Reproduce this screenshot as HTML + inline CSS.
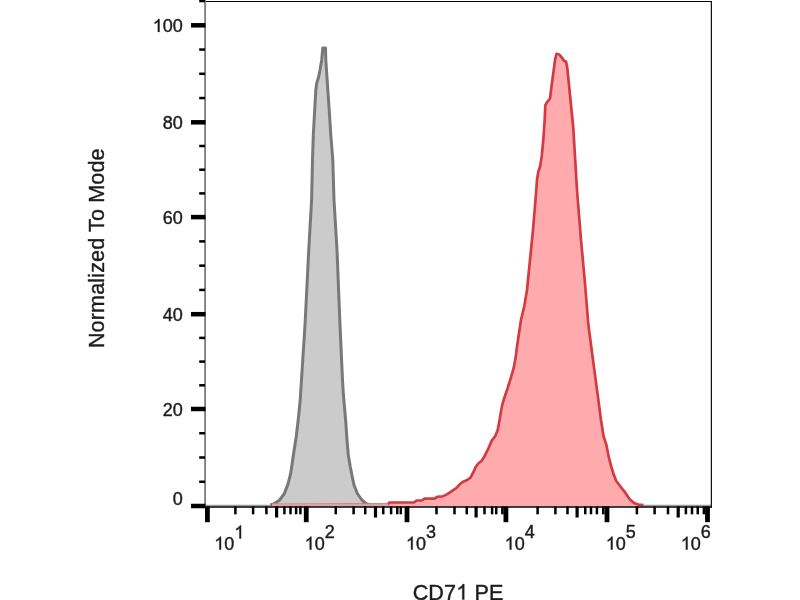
<!DOCTYPE html><html><head><meta charset="utf-8"><style>html,body{margin:0;padding:0;background:#fff;width:800px;height:600px;overflow:hidden}#w{will-change:transform;width:800px;height:600px;background:#fff}svg{display:block}text{font-family:"Liberation Sans", sans-serif;fill:#1c1c1c;stroke:#1c1c1c;stroke-width:0.4px}</style></head><body><div id="w">
<svg width="800" height="600" viewBox="0 0 800 600">
<rect width="800" height="600" fill="#fff"/>
<line x1="205" y1="505.5" x2="711" y2="505.5" stroke="#9a9a9a" stroke-width="1.5"/>
<polygon points="270.5,506 270.5,505 274.2,503.7 279.7,500 284.3,493.6 287.9,484.4 290.7,473.4 293.4,455 296.2,436.7 298.4,418.3 300.2,400 305,325 308.75,250 311.6,200 312.5,160 313.3,135 314.7,110 315.8,90 316.7,83.3 318.7,76.7 320,70 321.7,60 322.8,48 325.5,48 325.8,60 327.5,85 329.2,110 330.8,135 332.8,160 334,200 337,250 340,325 342.5,380 343.4,395 344.75,410 346,425 347,440 348.3,455 350.3,467 352.3,477 354,485 357.5,493.75 361.9,500 366.25,503.75 370.4,505 370.4,506" fill="#cbcbcb"/>
<polyline points="270.5,505 274.2,503.7 279.7,500 284.3,493.6 287.9,484.4 290.7,473.4 293.4,455 296.2,436.7 298.4,418.3 300.2,400 305,325 308.75,250 311.6,200 312.5,160 313.3,135 314.7,110 315.8,90 316.7,83.3 318.7,76.7 320,70 321.7,60 322.8,48 325.5,48 325.8,60 327.5,85 329.2,110 330.8,135 332.8,160 334,200 337,250 340,325 342.5,380 343.4,395 344.75,410 346,425 347,440 348.3,455 350.3,467 352.3,477 354,485 357.5,493.75 361.9,500 366.25,503.75 370.4,505" fill="none" stroke="#787878" stroke-width="3" stroke-linejoin="round"/>
<polygon points="271,506 271,505 370,504.5 387.5,504.5 389.5,502.5 414,502.5 416.5,500.5 422,500.5 424.5,498.5 434.5,498.6 437.5,496.75 442.75,496.4 447.25,494.1 451.75,491.1 456.25,488.1 460,484 463,481.75 466.75,480.25 470.5,477.6 473.5,472 475.75,466.75 478.75,463 481.5,461 484.3,456.7 488.3,448.7 491.7,440.7 495,436.7 497.7,430 499.7,419.3 501,411.3 502.3,404.7 504.3,398 507.7,388 511,377.3 513.7,368 515.7,357.3 517,346.7 519,333.3 521,320 524.3,306 527,290 529,270 531,250 533,230 536.3,190 537,180 538.3,171.7 540,166.7 541.7,156.7 543.3,140 544.8,118 545.3,105.3 546.7,102.7 550,98.7 551.3,88 554,68 555,60 556.5,53.8 559.3,54.5 562.7,58.7 564,60.7 566,61.5 567.3,68 569.3,88 571.3,108 573.3,128 575,156.7 577,190 581,240 584.7,280 588.4,325 593,360 597.7,395 601,420 603.5,436 606.4,445 608.5,455.8 611.25,466.7 614,475.3 616.1,480.75 621,487.25 625.3,492.7 629.7,499.2 634,503 638.3,504.6 643.5,505 643.5,506" fill="#ffabad"/>
<polyline points="271,505 370,504.5 387.5,504.5 389.5,502.5 414,502.5 416.5,500.5 422,500.5 424.5,498.5 434.5,498.6 437.5,496.75 442.75,496.4 447.25,494.1 451.75,491.1 456.25,488.1 460,484 463,481.75 466.75,480.25 470.5,477.6 473.5,472 475.75,466.75 478.75,463 481.5,461 484.3,456.7 488.3,448.7 491.7,440.7 495,436.7 497.7,430 499.7,419.3 501,411.3 502.3,404.7 504.3,398 507.7,388 511,377.3 513.7,368 515.7,357.3 517,346.7 519,333.3 521,320 524.3,306 527,290 529,270 531,250 533,230 536.3,190 537,180 538.3,171.7 540,166.7 541.7,156.7 543.3,140 544.8,118 545.3,105.3 546.7,102.7 550,98.7 551.3,88 554,68 555,60 556.5,53.8 559.3,54.5 562.7,58.7 564,60.7 566,61.5 567.3,68 569.3,88 571.3,108 573.3,128 575,156.7 577,190 581,240 584.7,280 588.4,325 593,360 597.7,395 601,420 603.5,436 606.4,445 608.5,455.8 611.25,466.7 614,475.3 616.1,480.75 621,487.25 625.3,492.7 629.7,499.2 634,503 638.3,504.6 643.5,505" fill="none" stroke="#d23b41" stroke-width="2.7" stroke-linejoin="round"/>
<line x1="272" y1="504.9" x2="388" y2="504.9" stroke="#dca2a4" stroke-width="2.6"/>
<line x1="204" y1="1.5" x2="712" y2="1.5" stroke="#000" stroke-width="1.15"/>
<line x1="711.35" y1="1" x2="711.35" y2="507.5" stroke="#000" stroke-width="1.15"/>
<line x1="205.1" y1="0" x2="205.1" y2="505" stroke="#808080" stroke-width="1.9"/>
<line x1="204" y1="507" x2="712" y2="507" stroke="#000" stroke-width="1.5"/>
<rect x="191" y="503.75" width="14.5" height="4.5" fill="#000"/>
<rect x="199.2" y="480.5" width="5.8" height="2.5" fill="#000"/>
<rect x="199.2" y="456.25" width="5.8" height="2.5" fill="#000"/>
<rect x="199.2" y="432" width="5.8" height="2.5" fill="#000"/>
<rect x="191" y="406.75" width="14.5" height="4.5" fill="#000"/>
<rect x="199.2" y="384.05" width="5.8" height="2.5" fill="#000"/>
<rect x="199.2" y="360.35" width="5.8" height="2.5" fill="#000"/>
<rect x="199.2" y="336.65" width="5.8" height="2.5" fill="#000"/>
<rect x="191" y="311.95" width="14.5" height="4.5" fill="#000"/>
<rect x="199.2" y="288.68" width="5.8" height="2.5" fill="#000"/>
<rect x="199.2" y="264.4" width="5.8" height="2.5" fill="#000"/>
<rect x="199.2" y="240.12" width="5.8" height="2.5" fill="#000"/>
<rect x="191" y="214.85" width="14.5" height="4.5" fill="#000"/>
<rect x="199.2" y="192.15" width="5.8" height="2.5" fill="#000"/>
<rect x="199.2" y="168.45" width="5.8" height="2.5" fill="#000"/>
<rect x="199.2" y="144.75" width="5.8" height="2.5" fill="#000"/>
<rect x="191" y="120.05" width="14.5" height="4.5" fill="#000"/>
<rect x="199.2" y="96.8" width="5.8" height="2.5" fill="#000"/>
<rect x="199.2" y="72.55" width="5.8" height="2.5" fill="#000"/>
<rect x="199.2" y="48.3" width="5.8" height="2.5" fill="#000"/>
<rect x="191" y="23.05" width="14.5" height="4.5" fill="#000"/>
<rect x="199.2" y="-0.2" width="5.8" height="2.5" fill="#000"/>
<text x="172.79" y="504.5" font-size="18">0</text>
<text x="162.78 172.79" y="415.6" font-size="18">20</text>
<text x="162.78 172.79" y="320.8" font-size="18">40</text>
<text x="162.78 172.79" y="223.7" font-size="18">60</text>
<text x="162.78 172.79" y="128.9" font-size="18">80</text>
<path transform="translate(152.77,31.9) scale(0.008789,-0.008789)" d="M763 0L583 0L583 1147Q518 1085 412.5 1023Q307 961 223 930L223 1104Q374 1175 487 1276Q600 1377 647 1472L763 1472Z" fill="#1c1c1c" stroke="#1c1c1c" stroke-width="45.5"/><text x="162.78 172.79" y="31.9" font-size="18">00</text>
<rect x="205" y="506.5" width="4.8" height="15.7" fill="#000"/>
<rect x="303.85" y="506.5" width="4.8" height="15.7" fill="#000"/>
<rect x="404.6" y="506.5" width="4.8" height="15.7" fill="#000"/>
<rect x="503.5" y="506.5" width="4.8" height="15.7" fill="#000"/>
<rect x="604.6" y="506.5" width="4.8" height="15.7" fill="#000"/>
<rect x="705.1" y="506.5" width="4.8" height="15.7" fill="#000"/>
<rect x="234.15" y="506.5" width="2.5" height="7.8" fill="#000"/>
<rect x="251.85" y="506.5" width="2.5" height="7.8" fill="#000"/>
<rect x="265.15" y="506.5" width="2.5" height="7.8" fill="#000"/>
<rect x="275" y="506.5" width="3.2" height="11" fill="#000"/>
<rect x="283.15" y="506.5" width="2.5" height="7.8" fill="#000"/>
<rect x="289.25" y="506.5" width="2.5" height="7.8" fill="#000"/>
<rect x="294.85" y="506.5" width="2.5" height="7.8" fill="#000"/>
<rect x="299.15" y="506.5" width="2.5" height="7.8" fill="#000"/>
<rect x="334.5" y="506.5" width="2.5" height="7.8" fill="#000"/>
<rect x="352.35" y="506.5" width="2.5" height="7.8" fill="#000"/>
<rect x="364" y="506.5" width="2.5" height="7.8" fill="#000"/>
<rect x="373.9" y="506.5" width="3.2" height="11" fill="#000"/>
<rect x="382" y="506.5" width="2.5" height="7.8" fill="#000"/>
<rect x="389.85" y="506.5" width="2.5" height="7.8" fill="#000"/>
<rect x="396" y="506.5" width="2.5" height="7.8" fill="#000"/>
<rect x="399.55" y="506.5" width="2.5" height="7.8" fill="#000"/>
<rect x="435.25" y="506.5" width="2.5" height="7.8" fill="#000"/>
<rect x="453.25" y="506.5" width="2.5" height="7.8" fill="#000"/>
<rect x="465.5" y="506.5" width="2.5" height="7.8" fill="#000"/>
<rect x="474.5" y="506.5" width="3.2" height="11" fill="#000"/>
<rect x="483.25" y="506.5" width="2.5" height="7.8" fill="#000"/>
<rect x="490.85" y="506.5" width="2.5" height="7.8" fill="#000"/>
<rect x="495" y="506.5" width="2.5" height="7.8" fill="#000"/>
<rect x="501.15" y="506.5" width="2.5" height="7.8" fill="#000"/>
<rect x="536.35" y="506.5" width="2.5" height="7.8" fill="#000"/>
<rect x="554.15" y="506.5" width="2.5" height="7.8" fill="#000"/>
<rect x="566.25" y="506.5" width="2.5" height="7.8" fill="#000"/>
<rect x="575.5" y="506.5" width="3.2" height="11" fill="#000"/>
<rect x="584" y="506.5" width="2.5" height="7.8" fill="#000"/>
<rect x="589.75" y="506.5" width="2.5" height="7.8" fill="#000"/>
<rect x="595.65" y="506.5" width="2.5" height="7.8" fill="#000"/>
<rect x="602" y="506.5" width="2.5" height="7.8" fill="#000"/>
<rect x="635.65" y="506.5" width="2.5" height="7.8" fill="#000"/>
<rect x="653.35" y="506.5" width="2.5" height="7.8" fill="#000"/>
<rect x="666.75" y="506.5" width="2.5" height="7.8" fill="#000"/>
<rect x="676.6" y="506.5" width="3.2" height="11" fill="#000"/>
<rect x="684.65" y="506.5" width="2.5" height="7.8" fill="#000"/>
<rect x="690.75" y="506.5" width="2.5" height="7.8" fill="#000"/>
<rect x="696.5" y="506.5" width="2.5" height="7.8" fill="#000"/>
<rect x="702.65" y="506.5" width="2.5" height="7.8" fill="#000"/>
<path transform="translate(214.29,549.6) scale(0.008789,-0.008789)" d="M763 0L583 0L583 1147Q518 1085 412.5 1023Q307 961 223 930L223 1104Q374 1175 487 1276Q600 1377 647 1472L763 1472Z" fill="#1c1c1c" stroke="#1c1c1c" stroke-width="45.5"/><text x="224.3" y="549.6" font-size="18">0</text>
<path transform="translate(234.31,538.4) scale(0.008789,-0.008789)" d="M763 0L583 0L583 1147Q518 1085 412.5 1023Q307 961 223 930L223 1104Q374 1175 487 1276Q600 1377 647 1472L763 1472Z" fill="#1c1c1c" stroke="#1c1c1c" stroke-width="45.5"/>
<path transform="translate(304.64,549.6) scale(0.008789,-0.008789)" d="M763 0L583 0L583 1147Q518 1085 412.5 1023Q307 961 223 930L223 1104Q374 1175 487 1276Q600 1377 647 1472L763 1472Z" fill="#1c1c1c" stroke="#1c1c1c" stroke-width="45.5"/><text x="314.65" y="549.6" font-size="18">0</text>
<text x="324.66" y="538.4" font-size="18">2</text>
<path transform="translate(405.94,549.6) scale(0.008789,-0.008789)" d="M763 0L583 0L583 1147Q518 1085 412.5 1023Q307 961 223 930L223 1104Q374 1175 487 1276Q600 1377 647 1472L763 1472Z" fill="#1c1c1c" stroke="#1c1c1c" stroke-width="45.5"/><text x="415.95" y="549.6" font-size="18">0</text>
<text x="425.96" y="538.4" font-size="18">3</text>
<path transform="translate(504.64,549.6) scale(0.008789,-0.008789)" d="M763 0L583 0L583 1147Q518 1085 412.5 1023Q307 961 223 930L223 1104Q374 1175 487 1276Q600 1377 647 1472L763 1472Z" fill="#1c1c1c" stroke="#1c1c1c" stroke-width="45.5"/><text x="514.65" y="549.6" font-size="18">0</text>
<text x="524.66" y="538.4" font-size="18">4</text>
<path transform="translate(605.79,549.6) scale(0.008789,-0.008789)" d="M763 0L583 0L583 1147Q518 1085 412.5 1023Q307 961 223 930L223 1104Q374 1175 487 1276Q600 1377 647 1472L763 1472Z" fill="#1c1c1c" stroke="#1c1c1c" stroke-width="45.5"/><text x="615.8" y="549.6" font-size="18">0</text>
<text x="625.81" y="538.4" font-size="18">5</text>
<path transform="translate(680.79,549.6) scale(0.008789,-0.008789)" d="M763 0L583 0L583 1147Q518 1085 412.5 1023Q307 961 223 930L223 1104Q374 1175 487 1276Q600 1377 647 1472L763 1472Z" fill="#1c1c1c" stroke="#1c1c1c" stroke-width="45.5"/><text x="690.8" y="549.6" font-size="18">0</text>
<text x="700.81" y="538.4" font-size="18">6</text>
<path transform="translate(456.16,599.6) scale(0.010547,-0.010547)" d="M763 0L583 0L583 1147Q518 1085 412.5 1023Q307 961 223 930L223 1104Q374 1175 487 1276Q600 1377 647 1472L763 1472Z" fill="#1c1c1c" stroke="#1c1c1c" stroke-width="37.9"/><text x="412.65 428.35 444.05 474.38 488.88" y="599.6" font-size="21.6">CD7PE</text>
<text transform="translate(103.9,248.2) rotate(-90)" x="0" y="0" font-size="21.6" text-anchor="middle" letter-spacing="0.12">Normalized To Mode</text>
</svg></div></body></html>
